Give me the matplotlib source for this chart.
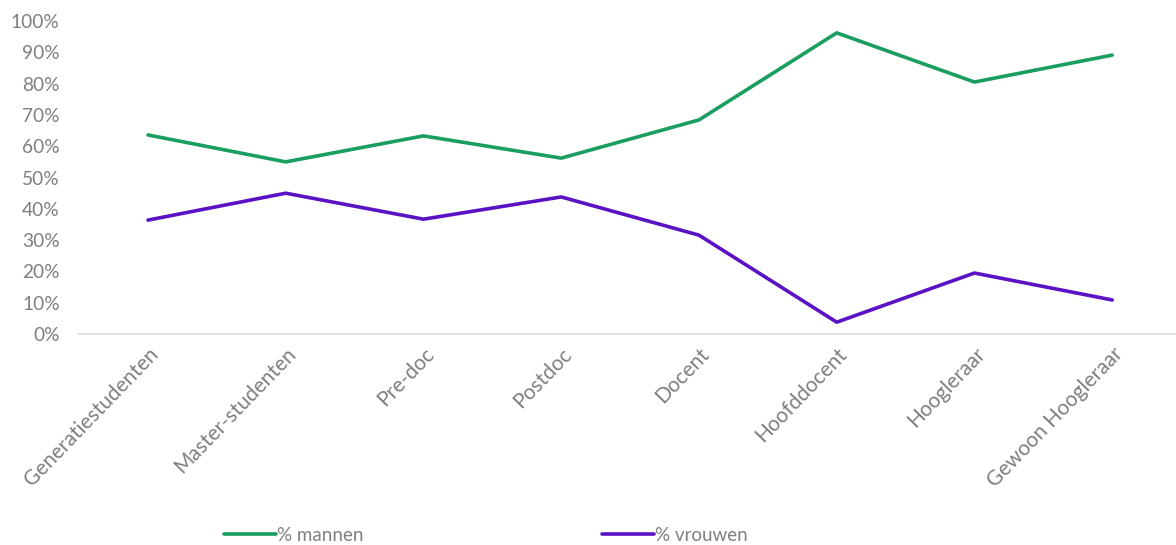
"""Aandeel mannen/vrouwen per functie"""
import matplotlib
matplotlib.use('Agg')
import matplotlib.pyplot as plt
from matplotlib.ticker import PercentFormatter

CATEGORIES = ['Generatiestudenten',
'Master-studenten',
'Pre-doc',
'Postdoc',
'Docent',
'Hoofddocent',
'Hoogleraar',
'Gewoon Hoogleraar']

MANNEN = [63.6, 55.0, 63.3, 56.2, 68.4, 96.2, 80.5, 89.1]
VROUWEN = [36.4, 45.0, 36.7, 43.8, 31.6, 3.8, 19.5, 10.9]

GREEN = '#1a9e5f'
PURPLE = '#5a12c4'
GREY = '#7f7f7f'

plt.rcParams['font.family'] = ['Lato', 'DejaVu Sans']

fig = plt.figure(figsize=(11.76, 5.45), dpi=100)
ax = fig.add_axes([0.0673, 0.387, 0.937, 0.5745])

x = range(len(CATEGORIES))
ax.plot(x, MANNEN, color=GREEN, lw=2.6, label='% mannen', solid_capstyle='round')
ax.plot(x, VROUWEN, color=PURPLE, lw=2.6, label='% vrouwen', solid_capstyle='round')

ax.set_xlim(-0.5, len(CATEGORIES) - 0.5)
ax.set_ylim(0, 100)
ax.set_yticks(range(0, 101, 10))
ax.yaxis.set_major_formatter(PercentFormatter(decimals=0))
ax.set_xticks(list(x))
ax.set_xticklabels(CATEGORIES, rotation=46, ha='right', rotation_mode='anchor')
ax.tick_params(axis='both', length=0, colors=GREY)
ax.tick_params(axis='y', pad=14, labelsize=13.8)
ax.tick_params(axis='x', pad=7, labelsize=15)

for s in ['top', 'right', 'left']:
    ax.spines[s].set_visible(False)
ax.spines['bottom'].set_color('#d9d9d9')
ax.spines['bottom'].set_linewidth(1.2)

fig.legend(loc='center', bbox_to_anchor=(0.413, 0.018), ncol=2, frameon=False,
           handlelength=2.8, handletextpad=0.05, columnspacing=12.7,
           fontsize=13.5, labelcolor=GREY)

fig.savefig('out.png', dpi=100)
